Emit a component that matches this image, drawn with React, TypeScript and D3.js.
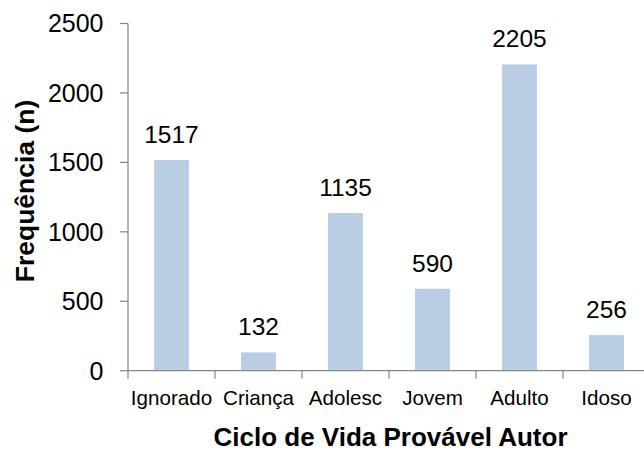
import React from "react";
import * as d3 from "d3";

const categories = ["Ignorado", "Criança", "Adolesc", "Jovem", "Adulto", "Idoso"];
const values = [1517, 132, 1135, 590, 2205, 256];
const yTicks = [0, 500, 1000, 1500, 2000, 2500];

export default function App() {
  const W = 644, H = 452;
  const x0 = 128, y0 = 370.7, yTop = 23.5, step = 87;
  const x = d3.scaleBand<string>().domain(categories).range([x0, x0 + step * categories.length]).paddingInner(0.6).paddingOuter(0.3);
  const y = d3.scaleLinear().domain([0, 2500]).range([y0, yTop]);
  const font = "'Liberation Sans', Arial, sans-serif";
  const axisColor = "#868686";
  return (
    <svg width={W} height={H} style={{ position: "absolute", left: 0, top: 0, background: "#fff" }} fontFamily={font}>
      {categories.map((c, i) => (
        <rect key={c} x={x(c)} y={y(values[i])} width={x.bandwidth()} height={y0 - y(values[i])} fill="#B9CDE5" />
      ))}
      {categories.map((c, i) => (
        <text key={c + "l"} x={x(c)! + x.bandwidth() / 2} y={y(values[i]) - 17} textAnchor="middle" fontSize={24.5} fill="#000">
          {values[i]}
        </text>
      ))}
      <line x1={x0} x2={x0} y1={yTop} y2={y0} stroke={axisColor} strokeWidth={1.2} />
      {yTicks.map((t) => (
        <g key={t}>
          <line x1={x0 - 8} x2={x0} y1={y(t)} y2={y(t)} stroke={axisColor} strokeWidth={1.2} />
          <text x={103.5} y={y(t) + 8.8} textAnchor="end" fontSize={25} fill="#000">{t}</text>
        </g>
      ))}
      <line x1={x0} x2={W} y1={y0} y2={y0} stroke={axisColor} strokeWidth={1.2} />
      {d3.range(categories.length + 1).map((i) => (
        <line key={i} x1={x0 + i * step} x2={x0 + i * step} y1={y0} y2={y0 + 8} stroke={axisColor} strokeWidth={1.2} />
      ))}
      {categories.map((c) => (
        <text key={c + "x"} x={x(c)! + x.bandwidth() / 2} y={405} textAnchor="middle" fontSize={20.6} fill="#000">{c}</text>
      ))}
      <text x={390.5} y={446} textAnchor="middle" fontSize={26} fontWeight="bold" fill="#000">Ciclo de Vida Provável Autor</text>
      <text transform={`translate(34,191) rotate(-90)`} textAnchor="middle" fontSize={26.5} fontWeight="bold" fill="#000">Frequência (n)</text>
    </svg>
  );
}
